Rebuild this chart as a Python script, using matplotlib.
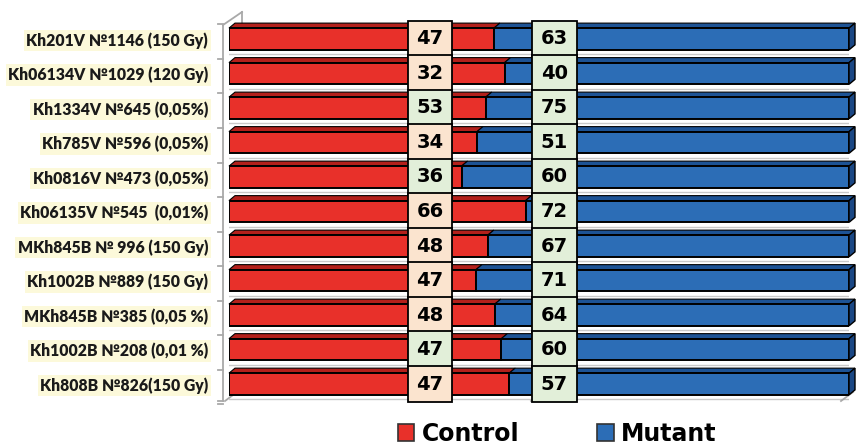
import numpy as np
import matplotlib
matplotlib.use('Agg')
import matplotlib.pyplot as plt
from matplotlib.patches import Polygon, Patch

lines = ['Kh201V №1146 (150 Gy)', 'Kh06134V №1029 (120 Gy)', 'Kh1334V №645 (0,05%)',
         'Kh785V №596 (0,05%)', 'Kh0816V №473 (0,05%)', 'Kh06135V №545  (0,01%)',
         'MKh845B № 996 (150 Gy)', 'Kh1002B №889 (150 Gy)', 'MKh845B №385 (0,05 %)',
         'Kh1002B №208 (0,01 %)', 'Kh808B №826(150 Gy)']
control = [47, 32, 53, 34, 36, 66, 48, 47, 48, 47, 47]
mutant = [63, 40, 75, 51, 60, 72, 67, 71, 64, 60, 57]

PEACH = '#FBE4CF'
GREEN = '#E2EFD9'
ctrl_box = [PEACH, PEACH, GREEN, PEACH, GREEN, PEACH, PEACH, PEACH, PEACH, GREEN, PEACH]

RED, RED_TOP = '#E8302A', '#B3201B'
BLUE, BLUE_TOP, BLUE_SIDE = '#2C6DB6', '#1D5395', '#1A4784'

control = np.array(control, dtype=float)
mutant = np.array(mutant, dtype=float)
total = control + mutant
c_pct = control / total * 100
m_pct = mutant / total * 100
y = np.arange(len(lines))

fig = plt.figure(figsize=(8.56, 4.48), dpi=100)
W, H = 856, 448
ax = fig.add_axes([229 / W, 45 / H, 620 / W, 383 / H])
ax.set_xlim(0, 100)
ax.set_ylim(10.55, -0.55)
for s in ax.spines.values():
    s.set_visible(False)
ax.set_xticks([])

# pixel -> data conversion for the 3D depth
px_x = 100 / 620
px_y = 11.1 / 383
dx, dy = 6 * px_x, 5 * px_y
h = 0.63

# light lines behind the bars
for i in y:
    ax.plot([0, 100 + dx], [i + h / 2 + 0.13, i + h / 2 + 0.13], color='#C9C9C9', lw=1, zorder=0)

ax.barh(y, c_pct, height=h, color=RED, edgecolor='black', lw=1.4, zorder=2)
ax.barh(y, m_pct, left=c_pct, height=h, color=BLUE, edgecolor='black', lw=1.4, zorder=2)

# top and side faces
for i in y:
    yt = i - h / 2
    yb = i + h / 2
    for x0, x1, col in [(0, c_pct[i], RED_TOP), (c_pct[i], 100, BLUE_TOP)]:
        ax.add_patch(Polygon([(x0, yt), (x1, yt), (x1 + dx, yt - dy), (x0 + dx, yt - dy)],
                             closed=True, facecolor=col, edgecolor='black', lw=0.8,
                             zorder=1.5, clip_on=False))
    ax.add_patch(Polygon([(100, yt), (100 + dx, yt - dy), (100 + dx, yb - dy), (100, yb)],
                         closed=True, facecolor=BLUE_SIDE, edgecolor='black', lw=1.0,
                         zorder=1.5, clip_on=False))

# left wall
wx = -6 * px_x
ytop, ybot = -0.55 + 5 * px_y, 10.55 - 2 * px_y
wall = dict(color='#A9A9A9', lw=1.3, clip_on=False, zorder=0)
ax.plot([wx, wx], [ytop, ybot], **wall)
ax.plot([wx, wx + 19 * px_x], [ytop, ytop - 13 * px_y], **wall)
ax.plot([wx + 19 * px_x, wx + 19 * px_x], [ytop - 13 * px_y, 0], **wall)
ax.plot([wx - 5 * px_x, wx], [ybot, ybot], **wall)
ax.plot([wx + 2 * px_x, wx + 14 * px_x], [ybot, ybot - 9 * px_y], **wall)
for b in np.arange(-0.5, 11, 1.0):
    ax.plot([wx - 5 * px_x, wx], [b + 0.08, b + 0.08], **wall)
for gx in [50, 100]:
    ax.plot([gx - 8 * px_x, gx + 4 * px_x], [ybot, ybot - 9 * px_y], **wall)

# value boxes
for i in y:
    ax.text(32.4, i, f'{int(control[i])}', ha='center', va='center', fontsize=14,
            fontweight='bold', family='DejaVu Sans', zorder=5,
            bbox=dict(boxstyle='square,pad=0.45', facecolor=ctrl_box[i], edgecolor='black', lw=1.3))
    ax.text(52.5, i, f'{int(mutant[i])}', ha='center', va='center', fontsize=14,
            fontweight='bold', family='DejaVu Sans', zorder=5,
            bbox=dict(boxstyle='square,pad=0.45', facecolor=GREEN, edgecolor='black', lw=1.3))

ax.set_yticks(y)
ax.set_yticklabels(lines, fontsize=11.3, fontweight='heavy', family='Lato', color='#1a1a1a')
ax.tick_params(axis='y', length=0, pad=15)
for t in ax.get_yticklabels():
    t.set_bbox(dict(boxstyle='square,pad=0.15', facecolor='#FCF9DA', edgecolor='none'))

handles = [Patch(facecolor=RED, edgecolor='#333333', lw=1.2, label='Control'),
           Patch(facecolor=BLUE, edgecolor='#333333', lw=1.2, label='Mutant')]
fig.legend(handles=handles, loc='center', bbox_to_anchor=(557 / W, 1 - 434 / H), ncol=2,
           frameon=False, prop=dict(family='DejaVu Sans', weight='bold', size=17),
           handlelength=0.7, handleheight=0.7, handletextpad=0.3, columnspacing=3.3,
           borderaxespad=0, borderpad=0)

fig.savefig('out.png', dpi=100)
